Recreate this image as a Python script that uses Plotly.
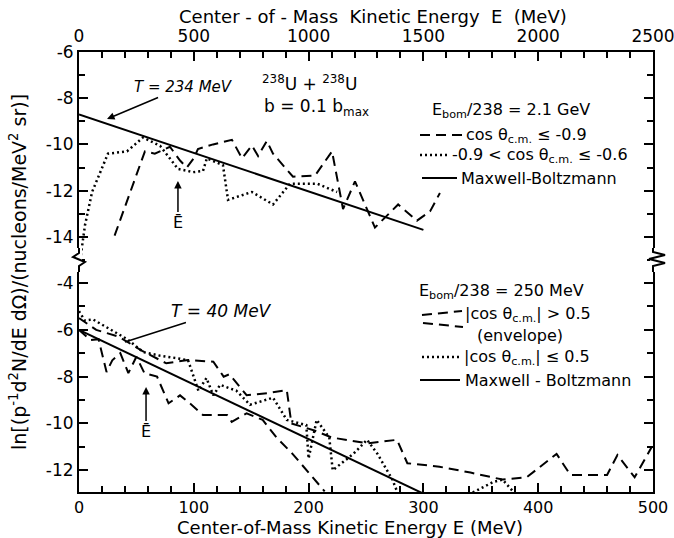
import plotly.graph_objects as go

# ---------------- data ----------------
top_ticks = [0, 500, 1000, 1500, 2000, 2500]
top_minor = list(range(0, 2501, 100))
bot_ticks = [0, 100, 200, 300, 400, 500]
bot_minor = list(range(0, 501, 20))
upper_yticks = [-6, -8, -10, -12, -14]
upper_yminor = [-7, -9, -11, -13, -15]
lower_yticks = [-4, -6, -8, -10, -12]
lower_yminor = [-5, -7, -9, -11]

# upper panel (E_bom/238 = 2.1 GeV)
mb_hi_E = [0, 1500]
mb_hi_v = [-8.7, -13.7]
dash_hi_E = [155, 287, 330, 396, 440, 470, 500, 518, 584, 666, 710, 753, 780, 818, 845,
             932, 1028, 1102, 1150, 1202, 1289, 1390, 1472, 1529, 1572]
dash_hi_v = [-13.95, -10.3, -10.4, -10.1, -10.7, -11.0, -10.6, -10.2, -10.0, -9.8, -10.6, -10.05, -10.5, -9.85, -10.4,
             -11.4, -11.35, -10.3, -12.8, -11.6, -13.6, -12.6, -13.3, -12.9, -12.1]
dot_hi_E = [8, 26, 57, 126, 209, 279, 353, 431, 497, 540, 557, 627, 649, 753, 845, 919, 1037, 1124]
dot_hi_v = [-14.8, -13.5, -12.06, -10.4, -10.3, -9.7, -10.06, -11.06, -11.2, -11.15, -10.6, -10.9, -12.4,
            -12.06, -12.6, -11.7, -11.7, -12.06]

# lower panel (E_bom/238 = 250 MeV)
mb_lo_E = [0, 300]
mb_lo_v = [-6.0, -13.0]
dash_lo_up_E = [0, 15, 35, 55, 76, 95, 117, 126, 131, 146, 165, 181, 185, 205, 220, 251, 277, 286, 314,
                341, 369, 390, 416, 428, 460, 469, 484, 499]
dash_lo_up_v = [-5.5, -6.0, -6.3, -6.9, -7.43, -7.29, -7.36, -8.0, -7.9, -8.79, -8.7, -8.57, -10.0, -10.3,
                -10.6, -10.85, -10.7, -11.7, -11.85, -12.1, -12.4, -12.3, -11.3, -12.2, -12.2, -11.35, -12.3, -11.0]
dash_lo_low_E = [0, 10, 17, 24, 29, 36, 43, 50, 57, 68, 78, 88, 98, 108, 129, 133, 146, 160, 172, 186, 214]
dash_lo_low_v = [-6.0, -6.44, -6.4, -7.8, -7.3, -7.0, -7.85, -7.15, -7.85, -8.0, -9.14, -8.8, -9.2, -9.64,
                 -9.64, -9.93, -9.57, -9.85, -10.6, -11.3, -12.9]
dot_lo_E = [0, 5, 12, 24, 42, 56, 70, 84, 95, 104, 111, 117, 123, 137, 149, 169, 181, 198, 200, 207, 218,
            221, 239, 251, 260, 273, 277, None, 343, 361, 369, 378]
dot_lo_v = [-5.2, -5.6, -5.55, -5.9, -6.4, -6.95, -7.1, -7.2, -7.3, -8.6, -8.06, -8.8, -8.35, -8.6, -9.2,
            -8.9, -9.85, -10.07, -11.5, -9.85, -10.6, -12.0, -11.3, -10.7, -11.3, -12.4, -12.9, None,
            -12.95, -12.5, -12.4, -12.9]

# ---------------- geometry helpers (page pixels) ----------------
L, R, T, B = 79, 653, 52, 492
BRK = 262
W, H = 674, 538


def P(x, y):
    return (x - L) / (R - L), (B - y) / (B - T)


split = P(0, BRK)[1]
FONT = "DejaVu Sans"
DASH = "10px,6px"
DOT = "2px,3px"

fig = go.Figure()
line_solid = dict(color="black", width=2)
line_dash = dict(color="black", width=2, dash=DASH)
line_dot = dict(color="black", width=2.5, dash=DOT)

fig.add_trace(go.Scatter(x=mb_hi_E, y=mb_hi_v, mode="lines", line=line_solid, xaxis="x", yaxis="y"))
fig.add_trace(go.Scatter(x=dash_hi_E, y=dash_hi_v, mode="lines", line=line_dash, xaxis="x", yaxis="y"))
fig.add_trace(go.Scatter(x=dot_hi_E, y=dot_hi_v, mode="lines", line=line_dot, xaxis="x", yaxis="y"))
fig.add_trace(go.Scatter(x=mb_lo_E, y=mb_lo_v, mode="lines", line=line_solid, xaxis="x2", yaxis="y2"))
fig.add_trace(go.Scatter(x=dash_lo_up_E, y=dash_lo_up_v, mode="lines", line=line_dash, xaxis="x2", yaxis="y2"))
fig.add_trace(go.Scatter(x=dash_lo_low_E, y=dash_lo_low_v, mode="lines", line=line_dash, xaxis="x2", yaxis="y2"))
fig.add_trace(go.Scatter(x=dot_lo_E, y=dot_lo_v, mode="lines", line=line_dot, xaxis="x2", yaxis="y2",
                         connectgaps=False))

common = dict(showline=True, linewidth=2, linecolor="black", ticks="inside", tickcolor="black",
              tickwidth=1.5, showgrid=False, zeroline=False, automargin=False,
              ticklabeloverflow="allow",
              tickfont=dict(family=FONT, size=17, color="black"))

fig.update_layout(
    width=W, height=H,
    margin=dict(l=L, r=W - R, t=T, b=H - B, autoexpand=False),
    paper_bgcolor="white", plot_bgcolor="white",
    showlegend=False,
    xaxis=dict(common, domain=[0, 1], anchor="y", side="top", range=[0, 2500], mirror=False,
               tickvals=top_ticks, ticktext=[str(v) for v in top_ticks], ticklen=9,
               ticklabelstandoff=1,
               minor=dict(tickvals=top_minor, ticks="inside", ticklen=6, tickwidth=1.5, tickcolor="black")),
    yaxis=dict(common, domain=[split, 1], anchor="x", range=[-15.09, -6], mirror="ticks",
               tickvals=upper_yticks, ticktext=[str(v) for v in upper_yticks], ticklen=9,
               minor=dict(tickvals=upper_yminor, ticks="inside", ticklen=6, tickwidth=1.5, tickcolor="black")),
    xaxis2=dict(common, domain=[0, 1], anchor="y2", side="bottom", range=[0, 500], mirror=False,
                tickvals=bot_ticks, ticktext=[str(v) for v in bot_ticks], ticklen=9,
                ticklabelstandoff=0, tickfont=dict(family=FONT, size=16, color="black"),
                minor=dict(tickvals=bot_minor, ticks="inside", ticklen=6, tickwidth=1.5, tickcolor="black")),
    yaxis2=dict(common, domain=[0, split], anchor="x2", range=[-12.93, -3.10], mirror="ticks",
                tickvals=lower_yticks, ticktext=[str(v) for v in lower_yticks], ticklen=9,
                minor=dict(tickvals=lower_yminor, ticks="inside", ticklen=6, tickwidth=1.5, tickcolor="black")),
)

shapes = []


def pline(x0, y0, x1, y1, dash=None, width=2, color="black"):
    a = P(x0, y0)
    b = P(x1, y1)
    d = dict(type="line", xref="paper", yref="paper", x0=a[0], y0=a[1], x1=b[0], y1=b[1],
             line=dict(color=color, width=width))
    if dash:
        d["line"]["dash"] = dash
    shapes.append(d)


def ppath(points, width=2):
    s = "M " + " L ".join("%.5f,%.5f" % P(x, y) for x, y in points)
    shapes.append(dict(type="path", xref="paper", yref="paper", path=s,
                       line=dict(color="black", width=width)))


# axis breaks
pline(L, 248, L, 272, width=6, color="white")
ppath([(L, 248), (L, 253), (L - 6, 257), (L + 6, 262), (L, 266), (L, 272)])
pline(R, 248, R, 272, width=6, color="white")
ppath([(R, 248), (R, 252), (R + 12, 255), (R - 4, 259), (R + 12, 263), (R, 266), (R, 272)])

# legend samples (upper)
pline(420, 135, 462, 135, dash=DASH)
pline(420, 155, 448, 155, dash=DOT, width=2.5)
pline(422, 178, 457, 178)
# legend samples (lower)
pline(422, 315, 462, 311, dash=DASH)
pline(423, 323, 463, 327, dash=DASH)
pline(422, 357, 460, 357, dash=DOT, width=2.5)
pline(420, 380, 460, 380)

fig.update_layout(shapes=shapes)

ann = []


def ptext(x, y, text, size=16, xanchor="left", angle=0):
    px, py = P(x, y)
    ann.append(dict(x=px, y=py, xref="paper", yref="paper", text=text, showarrow=False,
                    xanchor=xanchor, yanchor="middle", textangle=angle,
                    font=dict(family=FONT, size=size, color="black")))


ptext(373, 16, "Center - of - Mass  Kinetic Energy  E  (MeV)", size=18, xanchor="center")
ptext(350, 527, "Center-of-Mass Kinetic Energy E (MeV)", size=18, xanchor="center")
ptext(18, 272, "ln[(p<sup>-1</sup>d<sup>2</sup>N/dE dΩ)/(nucleons/MeV<sup>2</sup> sr)]", size=19,
      xanchor="center", angle=-90)
ptext(309, 83, "<sup>238</sup>U + <sup>238</sup>U", size=17, xanchor="center")
ptext(316, 107, "b = 0.1 b<sub>max</sub>", size=17, xanchor="center")

ptext(430, 111, "E<sub>bom</sub>/238 = 2.1 GeV", size=16)
ptext(464, 135, "cos θ<sub>c.m.</sub> ≤ -0.9", size=16)
ptext(450, 155, "-0.9 < cos θ<sub>c.m.</sub> ≤ -0.6", size=16)
ptext(459, 178, "Maxwell-Boltzmann", size=16)

ptext(417, 291, "E<sub>bom</sub>/238 = 250 MeV", size=16)
ptext(463, 314, "|cos θ<sub>c.m.</sub>| > 0.5", size=16)
ptext(520, 335, "(envelope)", size=16, xanchor="center")
ptext(462, 357, "|cos θ<sub>c.m.</sub>| ≤ 0.5", size=16)
ptext(463, 380, "Maxwell - Boltzmann", size=16)

ann.append(dict(x=122, y=-8.9, xref="x", yref="y", text="<i>T = 234 MeV</i>", showarrow=True,
                ax=76, ay=-32, arrowhead=2, arrowsize=1, arrowwidth=1.5, arrowcolor="black",
                font=dict(family=FONT, size=15, color="black")))
ann.append(dict(x=40, y=-6.52, xref="x2", yref="y2", text="<i>T = 40 MeV</i>", showarrow=True,
                ax=97, ay=-31, arrowhead=0, arrowwidth=1.5, arrowcolor="black",
                font=dict(family=FONT, size=17, color="black")))
ann.append(dict(x=431, y=-11.58, xref="x", yref="y", text="Ē", showarrow=True,
                ax=0, ay=42, arrowhead=2, arrowwidth=1.5, arrowcolor="black",
                font=dict(family=FONT, size=16, color="black")))
ann.append(dict(x=58.4, y=-8.44, xref="x2", yref="y2", text="Ē", showarrow=True,
                ax=0, ay=45, arrowhead=2, arrowwidth=1.5, arrowcolor="black",
                font=dict(family=FONT, size=16, color="black")))

fig.update_layout(annotations=ann)

fig.write_html("out.html", config={"displayModeBar": False},
               post_script="document.body.style.margin='0';document.body.style.overflow='hidden';")
